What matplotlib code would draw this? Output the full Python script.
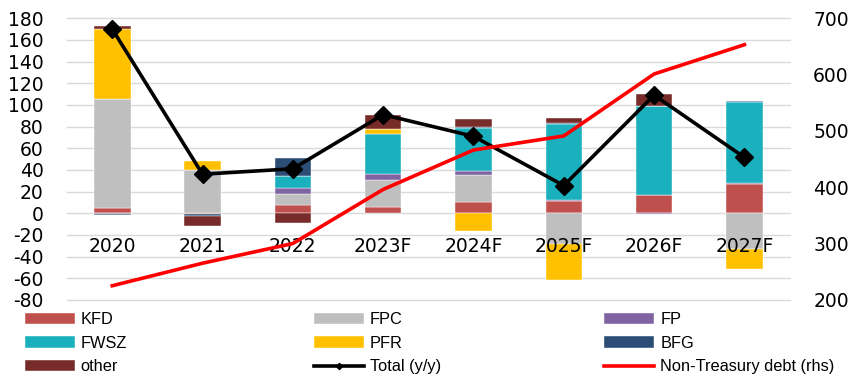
import numpy as np
import matplotlib
matplotlib.use("Agg")
import matplotlib.pyplot as plt

# --- data (PLN bn) ---
years = ["2020", "2021", "2022", "2023F", "2024F", "2025F", "2026F", "2027F"]
kfd   = [5.0, -0.5, 7.5, 5.5, 10.5, 11.5, 16.5, 27.0]
fpc   = [100.0, 40.0, 10.0, 25.0, 25.0, -28.0, 0.0, -33.0]
fp    = [-0.5, -0.5, 6.0, 6.0, 3.0, 1.0, -1.0, 1.0]
fwsz  = [0.0, 0.0, 11.0, 36.5, 40.0, 70.0, 82.5, 75.0]
pfr   = [65.0, 8.0, 0.0, 4.5, -16.0, -33.5, 0.0, -18.5]
bfg   = [-1.5, -2.0, 16.5, 0.0, 1.0, 1.0, 0.0, 1.0]
other = [2.5, -9.0, -9.5, 13.5, 7.5, 4.0, 11.0, 0.0]
total = [170.0, 36.0, 41.0, 91.0, 71.0, 25.5, 109.0, 51.5]
debt  = [225, 265, 300, 396, 466, 491, 601, 653]   # rhs

series = [("KFD", kfd, "#C0504D"), ("FPC", fpc, "#BFBFBF"),
          ("FP", fp, "#8064A2"), ("FWSZ", fwsz, "#1BB0BE"),
          ("PFR", pfr, "#FFC000"), ("BFG", bfg, "#2C4D75"),
          ("other", other, "#772C2A")]

plt.rcParams["font.family"] = ["DejaVu Sans"]
plt.rcParams["axes.unicode_minus"] = False
LEG_FONT = ["Liberation Sans", "DejaVu Sans"]

fig = plt.figure(figsize=(8.49, 3.80), dpi=100)
ax = fig.add_axes([0.079, 0.211, 0.851, 0.741])
x = np.arange(len(years))

pos = np.zeros(len(years))
neg = np.zeros(len(years))
bars = {}
for name, vals, col in series:
    v = np.array(vals)
    bottom = np.where(v >= 0, pos, neg)
    bars[name] = ax.bar(x, v, width=0.405, bottom=bottom, color=col,
                        edgecolor="white", linewidth=0.3, label=name, zorder=2)
    pos += np.where(v >= 0, v, 0)
    neg += np.where(v < 0, v, 0)

ln_tot, = ax.plot(x, total, color="black", lw=2.6, marker="D", ms=9,
                  zorder=4, label="Total (y/y)")

ax.set_ylim(-80, 180)
ax.set_yticks(np.arange(-80, 181, 20))
ax.set_xlim(-0.5, len(years) - 0.5)
ax.set_xticks(x)
ax.set_xticklabels(years)
ax.yaxis.grid(True, color="#D9D9D9", lw=1.0, clip_on=False)
ax.set_axisbelow(True)
ax.xaxis.set_zorder(5)
ax.spines["bottom"].set_position(("data", 0))
for s in ax.spines.values():
    s.set_visible(False)
ax.tick_params(axis="x", length=0, pad=17, labelsize=13.5)
ax.tick_params(axis="y", length=0, pad=17, labelsize=13.5)

ax2 = ax.twinx()
ln_debt, = ax2.plot(x, debt, color="#FF0000", lw=2.6, zorder=3,
                    label="Non-Treasury debt (rhs)")
ax2.set_ylim(200, 700)
ax2.set_yticks(np.arange(200, 701, 100))
for s in ax2.spines.values():
    s.set_visible(False)
ax2.tick_params(axis="y", length=0, pad=17, labelsize=13.5)

# legend in three columns, placed one column at a time
cols = [
    (0.029, [bars["KFD"], bars["FWSZ"], bars["other"]]),
    (0.370, [bars["FPC"], bars["PFR"], ln_tot]),
    (0.712, [bars["FP"], bars["BFG"], ln_debt]),
]
for xpos, hs in cols:
    leg = fig.legend(handles=hs, labels=[h.get_label() for h in hs],
                     loc="upper left", bbox_to_anchor=(xpos, 0.178),
                     frameon=False, borderpad=0, borderaxespad=0,
                     handlelength=3.05, handleheight=0.7, handletextpad=0.35,
                     labelspacing=0.52, markerscale=0.35,
                     prop={"family": LEG_FONT, "size": 11.8})

fig.savefig("out.png", dpi=100)
